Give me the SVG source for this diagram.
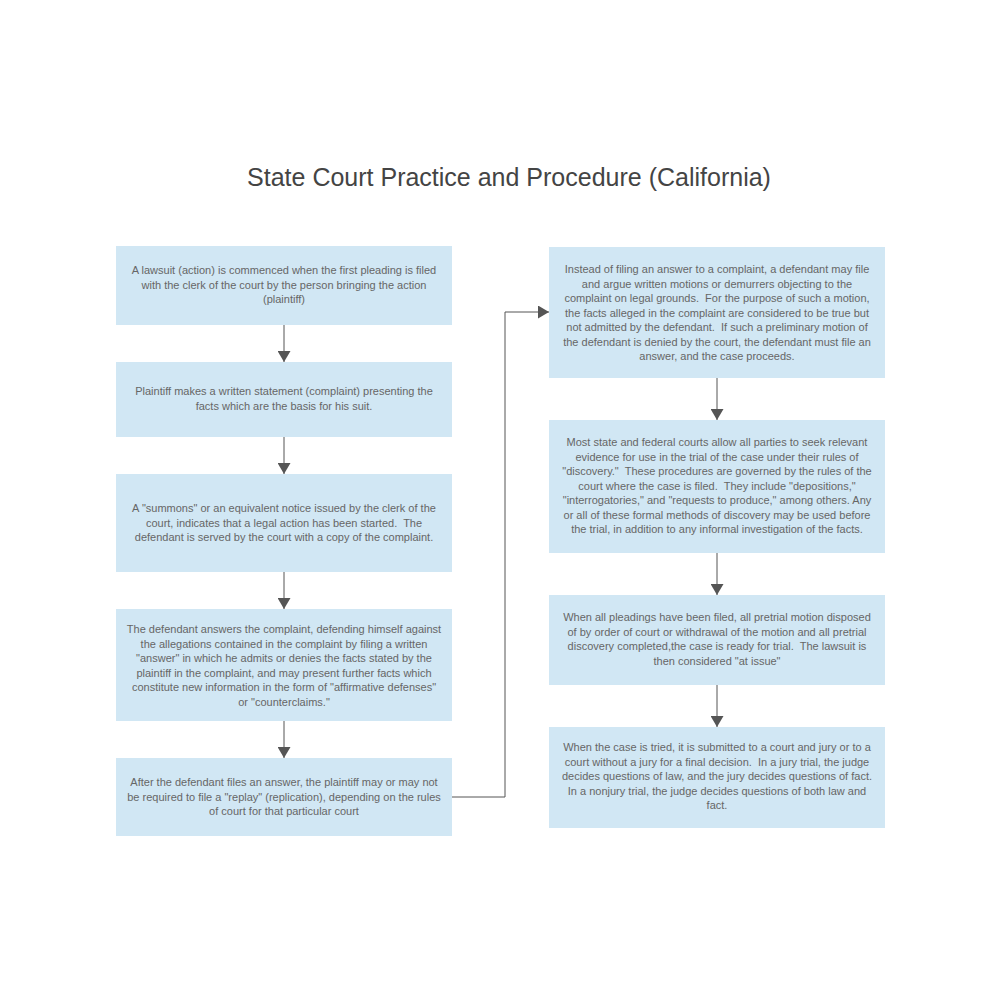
<svg xmlns="http://www.w3.org/2000/svg" width="1000" height="1000" viewBox="0 0 1000 1000">
<style>
.box{fill:#d1e7f4;}
.t{font-family:"Liberation Sans",Arial,sans-serif;font-size:11px;fill:#666;text-anchor:middle;white-space:pre;}
.title{font-family:"Liberation Sans",Arial,sans-serif;font-size:25px;fill:#444;text-anchor:middle;}
.c{fill:none;stroke:#555;stroke-width:1;}
</style>
<defs>
<marker id="ah" markerWidth="11" markerHeight="13" refX="11" refY="6.5" orient="auto" markerUnits="userSpaceOnUse">
<path d="M0,0 L11,6.5 L0,13 Z" fill="#555"/>
</marker>
</defs>
<rect width="1000" height="1000" fill="#fff"/>
<text class="title" x="509" y="186">State Court Practice and Procedure (California)</text>

<g id="connectors">
<path class="c" d="M284,325 V362" marker-end="url(#ah)"/>
<path class="c" d="M284,437 V474" marker-end="url(#ah)"/>
<path class="c" d="M284,572 V609" marker-end="url(#ah)"/>
<path class="c" d="M284,721 V758" marker-end="url(#ah)"/>
<path class="c" d="M452,797 H505 V312 H549" marker-end="url(#ah)"/>
<path class="c" d="M717,378 V420" marker-end="url(#ah)"/>
<path class="c" d="M717,553 V595" marker-end="url(#ah)"/>
<path class="c" d="M717,685 V727" marker-end="url(#ah)"/>
</g>

<g id="n1">
<rect class="box" x="116" y="246" width="336" height="79"/>
<text class="t" xml:space="preserve"><tspan x="284" y="274">A lawsuit (action) is commenced when the first pleading is filed</tspan><tspan x="284" y="288.5">with the clerk of the court by the person bringing the action</tspan><tspan x="284" y="303">(plaintiff)</tspan></text>
</g>
<g id="n2">
<rect class="box" x="116" y="362" width="336" height="75"/>
<text class="t" xml:space="preserve"><tspan x="284" y="395">Plaintiff makes a written statement (complaint) presenting the</tspan><tspan x="284" y="409.5">facts which are the basis for his suit.</tspan></text>
</g>
<g id="n3">
<rect class="box" x="116" y="474" width="336" height="98"/>
<text class="t" xml:space="preserve"><tspan x="284" y="512">A "summons" or an equivalent notice issued by the clerk of the</tspan><tspan x="284" y="526.5">court, indicates that a legal action has been started.  The</tspan><tspan x="284" y="541">defendant is served by the court with a copy of the complaint.</tspan></text>
</g>
<g id="n4">
<rect class="box" x="116" y="609" width="336" height="112"/>
<text class="t" xml:space="preserve"><tspan x="284" y="633">The defendant answers the complaint, defending himself against</tspan><tspan x="284" y="647.5">the allegations contained in the complaint by filing a written</tspan><tspan x="284" y="662">"answer" in which he admits or denies the facts stated by the</tspan><tspan x="284" y="676.5">plaintiff in the complaint, and may present further facts which</tspan><tspan x="284" y="691">constitute new information in the form of "affirmative defenses"</tspan><tspan x="284" y="705.5">or "counterclaims."</tspan></text>
</g>
<g id="n5">
<rect class="box" x="116" y="758" width="336" height="78"/>
<text class="t" xml:space="preserve"><tspan x="284" y="786">After the defendant files an answer, the plaintiff may or may not</tspan><tspan x="284" y="800.5">be required to file a "replay" (replication), depending on the rules</tspan><tspan x="284" y="815">of court for that particular court</tspan></text>
</g>
<g id="n6">
<rect class="box" x="549" y="247" width="336" height="131"/>
<text class="t" xml:space="preserve"><tspan x="717" y="273">Instead of filing an answer to a complaint, a defendant may file</tspan><tspan x="717" y="287.5">and argue written motions or demurrers objecting to the</tspan><tspan x="717" y="302">complaint on legal grounds.  For the purpose of such a motion,</tspan><tspan x="717" y="316.5">the facts alleged in the complaint are considered to be true but</tspan><tspan x="717" y="331">not admitted by the defendant.  If such a preliminary motion of</tspan><tspan x="717" y="345.5">the defendant is denied by the court, the defendant must file an</tspan><tspan x="717" y="360">answer, and the case proceeds.</tspan></text>
</g>
<g id="n7">
<rect class="box" x="549" y="420" width="336" height="133"/>
<text class="t" xml:space="preserve"><tspan x="717" y="446">Most state and federal courts allow all parties to seek relevant</tspan><tspan x="717" y="460.5">evidence for use in the trial of the case under their rules of</tspan><tspan x="717" y="475">"discovery."  These procedures are governed by the rules of the</tspan><tspan x="717" y="489.5">court where the case is filed.  They include "depositions,"</tspan><tspan x="717" y="504">"interrogatories," and "requests to produce," among others. Any</tspan><tspan x="717" y="518.5">or all of these formal methods of discovery may be used before</tspan><tspan x="717" y="533">the trial, in addition to any informal investigation of the facts.</tspan></text>
</g>
<g id="n8">
<rect class="box" x="549" y="595" width="336" height="90"/>
<text class="t" xml:space="preserve"><tspan x="717" y="621">When all pleadings have been filed, all pretrial motion disposed</tspan><tspan x="717" y="635.5">of by order of court or withdrawal of the motion and all pretrial</tspan><tspan x="717" y="650">discovery completed,the case is ready for trial.  The lawsuit is</tspan><tspan x="717" y="664.5">then considered "at issue"</tspan></text>
</g>
<g id="n9">
<rect class="box" x="549" y="727" width="336" height="101"/>
<text class="t" xml:space="preserve"><tspan x="717" y="751">When the case is tried, it is submitted to a court and jury or to a</tspan><tspan x="717" y="765.5">court without a jury for a final decision.  In a jury trial, the judge</tspan><tspan x="717" y="780">decides questions of law, and the jury decides questions of fact.</tspan><tspan x="717" y="794.5">In a nonjury trial, the judge decides questions of both law and</tspan><tspan x="717" y="809">fact.</tspan></text>
</g>
</svg>
